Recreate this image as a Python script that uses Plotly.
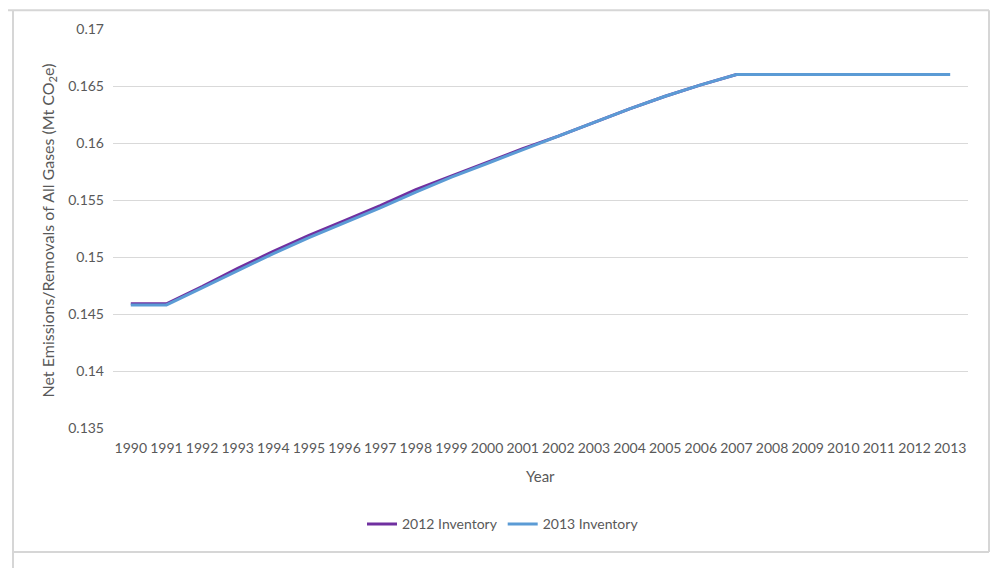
import plotly.graph_objects as go

years = [str(y) for y in range(1990, 2014)]

inventory_2012 = [0.1459, 0.1459, 0.1474, 0.1490, 0.1505, 0.1519, 0.1532, 0.1545,
                  0.1559, 0.1571, 0.1583, 0.1595, 0.1606, 0.1618, 0.1630, 0.1641,
                  0.1651, 0.1660, 0.1660, 0.1660, 0.1660, 0.1660, 0.1660, None]
inventory_2013 = [0.1458, 0.1458, 0.1473, 0.1488, 0.1503, 0.1517, 0.1530, 0.1543,
                  0.1557, 0.1570, 0.1582, 0.1594, 0.1606, 0.1618, 0.1630, 0.1641,
                  0.1651, 0.1660, 0.1660, 0.1660, 0.1660, 0.1660, 0.1660, 0.1660]

y_ticks = [0.135, 0.14, 0.145, 0.15, 0.155, 0.16, 0.165, 0.17]
y_tick_text = ["0.135", "0.14", "0.145", "0.15", "0.155", "0.16", "0.165", "0.17"]

# the page body has an 8px margin, so positions below are screen px minus 8
OFF = 8
W, H = 998 - OFF, 569 - OFF
L, R, T, B = 113 - OFF, 968 - OFF, 26 - OFF, 428 - OFF
FONT = "Lato"
GREY = "#595959"


# screen pixel -> paper coordinates
def px_x(x):
    return (x - OFF - L) / (R - L)


def px_y(y):
    return (B - (y - OFF)) / (B - T)


fig = go.Figure()
fig.add_trace(go.Scatter(x=years, y=inventory_2012, name="2012 Inventory", mode="lines",
                         line=dict(color="#7030A0", width=3)))
fig.add_trace(go.Scatter(x=years, y=inventory_2013, name="2013 Inventory", mode="lines",
                         line=dict(color="#5B9BD5", width=3)))

fig.update_layout(width=W, height=H,
                  margin=dict(l=L, r=W - R, t=T, b=H - B),
                  paper_bgcolor="white", plot_bgcolor="white",
                  font=dict(family=FONT, size=14, color=GREY),
                  legend=dict(orientation="h", x=px_x(503), y=px_y(525),
                              xanchor="center", yanchor="middle",
                              font=dict(family=FONT, size=14, color=GREY),
                              itemwidth=30),
                  xaxis=dict(type="category", range=[-0.5, 23.5], tickangle=0,
                             showgrid=False, zeroline=False, showline=False,
                             ticklabelstandoff=10, tickfont=dict(size=14, color=GREY)),
                  yaxis=dict(range=[0.135, 0.17], tickvals=y_ticks, ticktext=y_tick_text,
                             showgrid=True, gridcolor="#D9D9D9", gridwidth=1,
                             zeroline=False, showline=False,
                             ticklabelstandoff=8, tickfont=dict(size=14, color=GREY)))

# axis titles
fig.add_annotation(text="Net Emissions/Removals of All Gases (Mt CO<sub>2</sub>e)",
                   xref="paper", yref="paper", x=px_x(48), y=px_y(229), textangle=-90,
                   xanchor="center", yanchor="middle",
                   showarrow=False, font=dict(family=FONT, size=16, color=GREY))
fig.add_annotation(text="Year", xref="paper", yref="paper", x=0.5, y=px_y(476),
                   xanchor="center", yanchor="middle",
                   showarrow=False, font=dict(family=FONT, size=15, color=GREY))

# chart frame
frame = dict(color="#D6D6D6", width=2)
fig.add_shape(type="line", xref="paper", yref="paper", x0=px_x(8), x1=px_x(989),
              y0=px_y(7), y1=px_y(7), line=frame)
fig.add_shape(type="line", xref="paper", yref="paper", x0=px_x(13), x1=px_x(13),
              y0=px_y(7), y1=px_y(569), line=frame)
fig.add_shape(type="line", xref="paper", yref="paper", x0=px_x(989), x1=px_x(989),
              y0=px_y(7), y1=px_y(553), line=frame)
fig.add_shape(type="line", xref="paper", yref="paper", x0=px_x(13), x1=px_x(989),
              y0=px_y(553), y1=px_y(553), line=frame)

fig.write_html("out.html")
